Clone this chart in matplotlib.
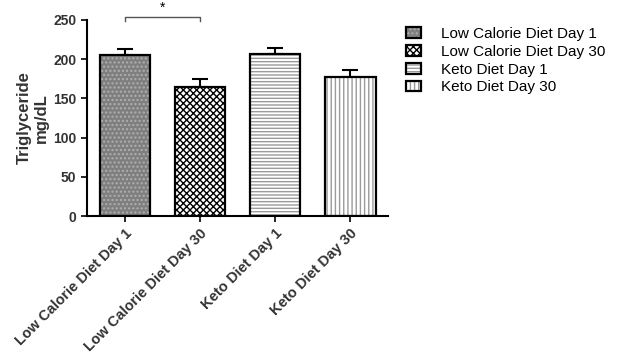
import matplotlib
matplotlib.use("Agg")
import matplotlib.pyplot as plt
import numpy as np

plt.rcParams['font.family'] = ['Liberation Sans', 'DejaVu Sans']
plt.rcParams['hatch.linewidth'] = 1.0

# data
groups = ["Low Calorie Diet Day 1", "Low Calorie Diet Day 30", "Keto Diet Day 1", "Keto Diet Day 30"]
means = [205, 164, 207, 177]
sem = [8, 11, 7, 9]
yticks = [0, 50, 100, 150, 200, 250]

faces = ["#7f7f7f", "white", "white", "white"]
hatches = ["....", "xxxxx", "-----", "||||"]
hatch_cols = ["#b0b0b0", "black", "#9a9a9a", "#9a9a9a"]

fig = plt.figure(figsize=(6.19, 3.55), dpi=100)
ax = fig.add_axes([0.1405, 0.3915, 0.4865, 0.5522])

x = np.arange(len(groups))
ax.errorbar(x, means, yerr=[np.zeros(len(sem)), sem], fmt="none", ecolor="black",
            elinewidth=1.5, capsize=6, capthick=1.5, zorder=1)
bars = ax.bar(x, means, width=0.667, color=faces, edgecolor="black", linewidth=1.6, zorder=2)
for b, h, hc in zip(bars, hatches, hatch_cols):
    b.set_hatch(h)
    b._hatch_color = matplotlib.colors.to_rgba(hc)

ax.set_xlim(-0.5, 3.5)
ax.set_ylim(0, 250)
ax.set_yticks(yticks)
ax.set_xticks(x)
ax.set_xticklabels(groups, rotation=45, ha="right", rotation_mode="anchor",
                   fontsize=10.5, fontweight="bold", color="#333333")
for t in ax.get_yticklabels():
    t.set_fontsize(10)
    t.set_fontweight("bold")
    t.set_color("#333333")
ax.set_ylabel("Triglyceride\nmg/dL", fontsize=12, fontweight="bold", color="#333333", labelpad=3)
ax.spines["top"].set_visible(False)
ax.spines["right"].set_visible(False)
ax.spines["left"].set_linewidth(1.5)
ax.spines["bottom"].set_linewidth(1.5)
ax.tick_params(width=1.2, length=4)
ax.spines["left"].set_bounds(0, 250)

# significance bracket
ax.plot([0, 0, 1, 1], [249, 254, 254, 249], color="#555555", lw=1, clip_on=False)
ax.text(0.5, 257, "*", ha="center", va="bottom", fontsize=10, clip_on=False)

fig.legend(bars, groups, loc="upper left", bbox_to_anchor=(0.633, 0.963), frameon=False,
           handlelength=1.0, handleheight=0.7, labelspacing=0.25,
           handletextpad=1.3, prop={"size": 11})

fig.savefig("out.png", dpi=100)
